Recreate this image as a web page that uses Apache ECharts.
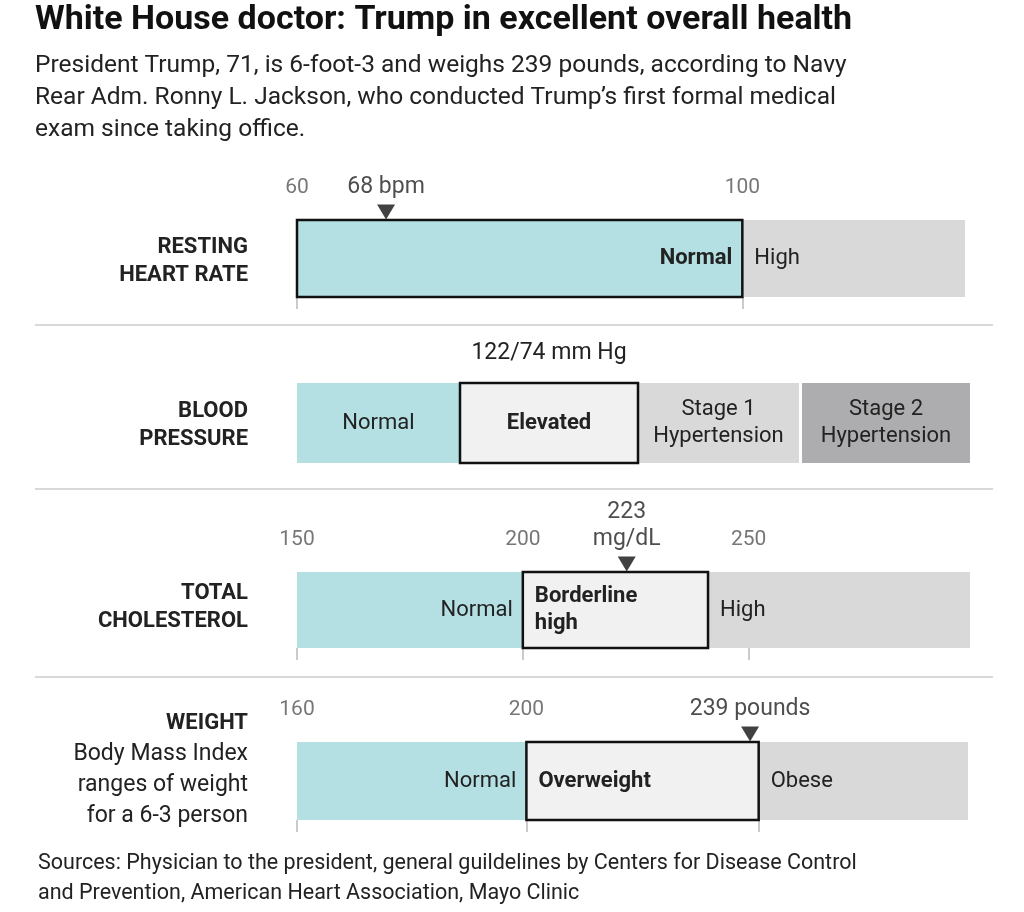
<!DOCTYPE html>
<html><head><meta charset="utf-8">
<script src="https://cdn.jsdelivr.net/npm/echarts@6/dist/echarts.min.js"></script>
<style>html,body{margin:0;background:#fff}#c{width:1024px;height:912px}</style>
</head><body><div id="c"></div>
<script>
// ── Data ──────────────────────────────────────────────────────────────
const hrBounds = [60, 100, 120];
const hrLabels = ['Normal', 'High'];
const hrTicks = [60, 100];
const hrValue = 68;

const bpBounds = [0, 163, 341, 505, 673];   // relative range widths (no numeric scale)
const bpLabels = ['Normal', 'Elevated', 'Stage 1\nHypertension', 'Stage 2\nHypertension'];
const bpReading = '122/74 mm Hg';

const cholBounds = [150, 200, 241, 299];
const cholLabels = ['Normal', 'Borderline\nhigh', 'High'];
const cholTicks = [150, 200, 250];
const cholValue = 223;

const wtBounds = [160, 200, 240.5, 277];
const wtLabels = ['Normal', 'Overweight', 'Obese'];
const wtTicks = [160, 200];
const wtTickMarks = [160, 200, 240.5];
const wtValue = 239;

// ── Layout / style ────────────────────────────────────────────────────
const FONT = 'Roboto, "Liberation Sans", sans-serif';
const TEAL = '#b4e0e3', LIGHT = '#f1f1f1', GRAY = '#d9d9d9', DARK = '#adadaf';

const rows = [
  { bounds: hrBounds, labels: hrLabels, cur: 0, fills: [TEAL, GRAY], align: ['right', 'left'],
    ticks: hrTicks, marks: hrTicks, value: hrValue, valueLabel: '68 bpm',
    grid: { left: 297, top: 220, width: 668, height: 77 } },
  { bounds: bpBounds, labels: bpLabels, cur: 1, fills: [TEAL, LIGHT, GRAY, DARK], align: ['center', 'center', 'center', 'center'],
    ticks: [], marks: [], value: null, gapAfter: 2,
    grid: { left: 297, top: 383, width: 673, height: 80 } },
  { bounds: cholBounds, labels: cholLabels, cur: 1, fills: [TEAL, LIGHT, GRAY], align: ['right', 'left', 'left'],
    ticks: cholTicks, marks: cholTicks, value: cholValue, valueLabel: '223\nmg/dL',
    grid: { left: 297, top: 572, width: 673, height: 76 } },
  { bounds: wtBounds, labels: wtLabels, cur: 1, fills: [TEAL, LIGHT, GRAY], align: ['right', 'left', 'left'],
    ticks: wtTicks, marks: wtTickMarks, value: wtValue, valueLabel: '239 pounds',
    grid: { left: 297, top: 742, width: 671, height: 78 } },
];

const grids = [], xAxes = [], yAxes = [], series = [];

rows.forEach((r, i) => {
  grids.push(r.grid);
  const min = r.bounds[0], max = r.bounds[r.bounds.length - 1];
  xAxes.push({
    gridIndex: i, type: 'value', min, max, position: 'top',
    axisLine: { show: false }, axisTick: { show: false }, splitLine: { show: false },
    axisLabel: { show: r.ticks.length > 0, customValues: r.ticks, margin: 22, color: '#777', fontSize: 21, fontFamily: FONT }
  });
  xAxes.push({
    gridIndex: i, type: 'value', min, max, position: 'bottom',
    axisLine: { show: false }, splitLine: { show: false }, axisLabel: { show: false },
    axisTick: { show: r.marks.length > 0, customValues: r.marks, length: 12, lineStyle: { color: '#bbb', width: 1.5 } }
  });
  yAxes.push({ gridIndex: i, type: 'value', min: 0, max: 1, show: false });

  const segs = r.labels.map((lab, k) => [r.bounds[k], r.bounds[k + 1], lab, k]);
  segs.push(segs.splice(r.cur, 1)[0]);

  series.push({
    type: 'custom', xAxisIndex: i * 2, yAxisIndex: i, data: segs,
    renderItem: (params, api) => {
      const k = api.value(3);
      const p0 = api.coord([api.value(0), 1]);
      const p1 = api.coord([api.value(1), 0]);
      const hl = k === r.cur;
      let w = p1[0] - p0[0];
      if (r.gapAfter === k) w -= 3;
      const h = p1[1] - p0[1];
      const al = r.align[k];
      const tx = al === 'right' ? p0[0] + w - 10 : al === 'left' ? p0[0] + 12 : p0[0] + w / 2;
      return {
        type: 'group',
        children: [
          { type: 'rect', shape: { x: p0[0], y: p0[1], width: w, height: h },
            style: { fill: r.fills[k], stroke: hl ? '#111' : null, lineWidth: hl ? 2.5 : 0 } },
          { type: 'text', style: {
              x: tx, y: p0[1] + h / 2, text: segs[params.dataIndex][2], align: al, verticalAlign: 'middle',
              fontSize: 22, lineHeight: 27, fontFamily: FONT, fontWeight: hl ? 'bold' : 'normal', fill: '#222' } }
        ]
      };
    }
  });

  if (r.value !== null) {
    series.push({
      type: 'scatter', xAxisIndex: i * 2, yAxisIndex: i, data: [[r.value, 1]],
      symbol: 'triangle', symbolRotate: 180, symbolSize: [18, 15], symbolOffset: [0, -8],
      itemStyle: { color: '#111' }, silent: true,
      label: { show: true, position: 'top', formatter: r.valueLabel, distance: 4, color: '#222',
        fontSize: 23, lineHeight: 27, fontFamily: FONT }
    });
  }
});

const bpRow = rows[1];
const rowLabel = (text, y) => ({
  type: 'text', x: 248, y,
  style: { text, fontSize: 22, lineHeight: 28, fontFamily: FONT, fontWeight: 'bold', fill: '#222', align: 'right' }
});
const sep = y => ({ type: 'line', shape: { x1: 35, y1: y, x2: 993, y2: y }, style: { stroke: '#ccc', lineWidth: 1.5 } });

const chart = echarts.init(document.getElementById('c'));
chart.setOption({
  animation: false,
  grid: grids, xAxis: xAxes, yAxis: yAxes, series,
  graphic: [
    { type: 'text', x: 35, y: 3, style: { text: 'White House doctor: Trump in excellent overall health', fontSize: 34, fontWeight: 'bold', fontFamily: FONT, fill: '#111' } },
    { type: 'text', x: 35, y: 50, style: { text: 'President Trump, 71, is 6-foot-3 and weighs 239 pounds, according to Navy\nRear Adm. Ronny L. Jackson, who conducted Trump\u2019s first formal medical\nexam since taking office.', fontSize: 24.5, lineHeight: 32, fontFamily: FONT, fill: '#222' } },
    rowLabel('RESTING\nHEART RATE', 233),
    rowLabel('BLOOD\nPRESSURE', 397),
    rowLabel('TOTAL\nCHOLESTEROL', 579),
    { type: 'text', x: 248, y: 708, style: { text: '{b|WEIGHT}\nBody Mass Index\nranges of weight\nfor a 6-3 person', align: 'right', fontSize: 23, lineHeight: 31, fontFamily: FONT, fill: '#222',
      rich: { b: { fontWeight: 'bold', fontSize: 22, fontFamily: FONT, fill: '#222' } } } },
    { type: 'text', x: 297 + (bpBounds[1] + bpBounds[2]) / 2 / bpBounds[4] * bpRow.grid.width, y: 342,
      style: { text: bpReading, align: 'center', fontSize: 23, fontFamily: FONT, fill: '#222' } },
    sep(325), sep(489), sep(677),
    { type: 'text', x: 38, y: 849, style: { text: 'Sources: Physician to the president, general guildelines by Centers for Disease Control\nand Prevention, American Heart Association, Mayo Clinic', fontSize: 21.5, lineHeight: 30, fontFamily: FONT, fill: '#222' } }
  ]
});
</script></body></html>
